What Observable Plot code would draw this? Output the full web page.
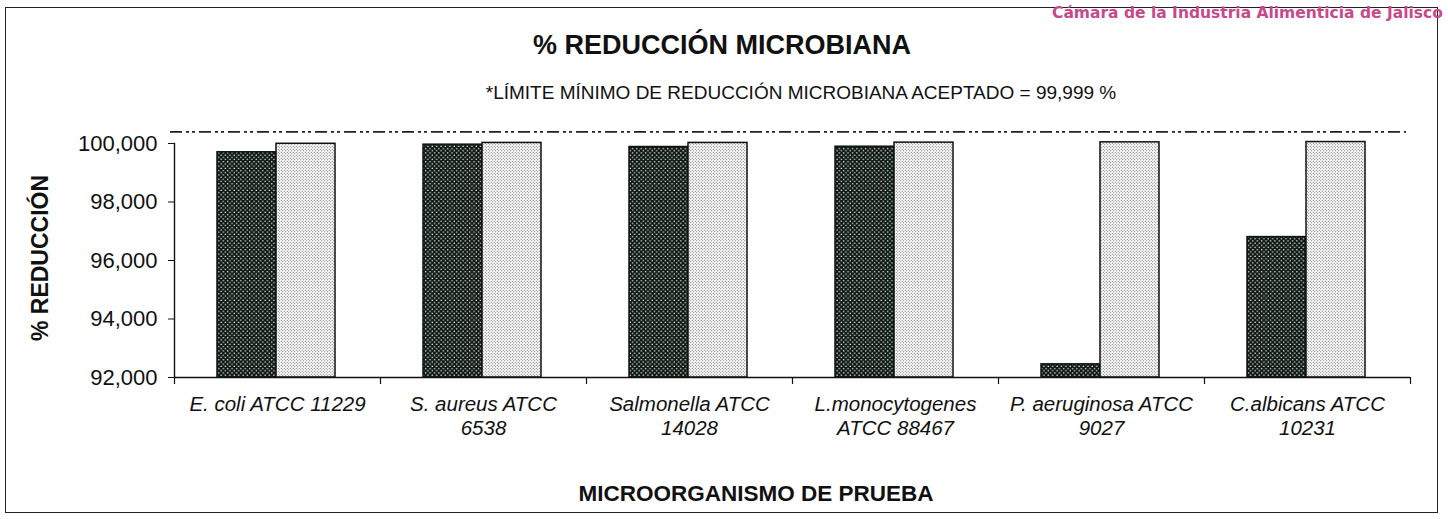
<!DOCTYPE html>
<html><head><meta charset="utf-8">
<script src="https://cdn.jsdelivr.net/npm/d3@7"></script>
<script src="https://cdn.jsdelivr.net/npm/@observablehq/plot@0.6"></script>
<style>
html,body{margin:0;padding:0;background:#fff;overflow:hidden}
#wrap{position:relative;width:1448px;height:519px;overflow:hidden;font-family:"Liberation Sans",Arial,sans-serif;color:#111;background:#fff}
.abs{position:absolute;white-space:nowrap;line-height:1}
#frame{position:absolute;left:5px;top:7px;width:1433px;height:506px;border:1.5px solid #222;box-sizing:border-box}
#chart{position:absolute;left:0;top:0}
#brand{left:1052px;top:6px;font-family:"DejaVu Sans",sans-serif;font-weight:bold;font-size:15.5px;color:#c9488a}
#title{left:722px;top:32px;transform:translateX(-50%);font-weight:bold;font-size:27px}
#subtitle{left:801px;top:83px;transform:translateX(-50%);font-size:19px}
#xtitle{left:756px;top:483px;transform:translateX(-50%);font-weight:bold;font-size:22.5px}
#ytitle{left:40px;top:258px;transform:translate(-50%,-50%) rotate(-90deg);font-weight:bold;font-size:23px}
</style></head><body>
<div id="wrap">
  <div id="frame"></div>
  <div id="chart"></div>
  <div id="brand" class="abs">Cámara de la Industria Alimenticia de Jalisco</div>
  <div id="title" class="abs">% REDUCCIÓN MICROBIANA</div>
  <div id="subtitle" class="abs">*LÍMITE MÍNIMO DE REDUCCIÓN MICROBIANA ACEPTADO = 99,999 %</div>
  <div id="ytitle" class="abs">% REDUCCIÓN</div>
  <div id="xtitle" class="abs">MICROORGANISMO DE PRUEBA</div>
</div>
<script>
// ---- data ----
const categories = [
  "E. coli ATCC 11229",
  "S. aureus ATCC\n6538",
  "Salmonella ATCC\n14028",
  "L.monocytogenes\nATCC 88467",
  "P. aeruginosa ATCC\n9027",
  "C.albicans ATCC\n10231"
];
const series = ["Serie 1", "Serie 2"];
const serie1Values = [99.70, 99.96, 99.88, 99.89, 92.45, 96.80];
const serie2Values = [99.99, 100.02, 100.02, 100.03, 100.04, 100.05];
const yTicks = [92, 94, 96, 98, 100];
const yTickLabels = ["92,000", "94,000", "96,000", "98,000", "100,000"];
const limitLine = [100.4];
const yBase = 92;

const rows1 = categories.map((c, i) => ({cat: c, serie: series[0], value: serie1Values[i]}));
const rows2 = categories.map((c, i) => ({cat: c, serie: series[1], value: serie2Values[i]}));

const svg = Plot.plot({
  width: 1448,
  height: 445,
  marginLeft: 174,
  marginRight: 38,
  marginTop: 143,
  marginBottom: 68,
  x: {domain: categories, padding: 0, label: null},
  y: {domain: [yBase, 100], label: null},
  style: {fontFamily: "'Liberation Sans', Arial, sans-serif", color: "#111", background: "transparent", overflow: "visible"},
  marks: [
    Plot.barY(rows1, {x: "cat", y1: yBase, y2: "value", fill: "url(#darkDots)", stroke: "#111", strokeWidth: 1.5, insetLeft: 43, insetRight: 104}),
    Plot.barY(rows2, {x: "cat", y1: yBase, y2: "value", fill: "url(#lightDots)", stroke: "#111", strokeWidth: 1.5, insetLeft: 102, insetRight: 45}),
    Plot.ruleY([yBase], {stroke: "#111", strokeWidth: 1.4}),
    Plot.frame({anchor: "left", stroke: "#111", strokeWidth: 1.4}),
    Plot.ruleX(categories, {x: d => d, y1: yBase, y2: yBase, dx: -103, insetBottom: -7, stroke: "#111", strokeWidth: 1.2}),
    Plot.ruleX(categories.slice(-1), {x: d => d, y1: yBase, y2: yBase, dx: 103, insetBottom: -7, stroke: "#111", strokeWidth: 1.2}),
    Plot.ruleY(limitLine, {stroke: "#222", strokeWidth: 1.7, strokeDasharray: "12,4,3,3,3,4", insetLeft: -4, insetRight: 4}),
    Plot.axisY({ticks: yTicks, tickFormat: d => yTickLabels[yTicks.indexOf(d)], tickSize: 6, tickPadding: 11, fontSize: 22, stroke: "#111"}),
    Plot.axisX({tickSize: 0, tickPadding: 16, fontSize: 20.5, fontStyle: "italic", lineHeight: 1.17})
  ]
});

const defs = d3.select(svg).insert("defs", ":first-child");
const pd = defs.append("pattern").attr("id", "darkDots").attr("patternUnits", "userSpaceOnUse").attr("width", 4.4).attr("height", 4.4);
pd.append("rect").attr("width", 4.4).attr("height", 4.4).attr("fill", "#0e1a13");
pd.append("circle").attr("cx", 1.1).attr("cy", 1.1).attr("r", 0.75).attr("fill", "#f4f4f4");
pd.append("circle").attr("cx", 3.3).attr("cy", 3.3).attr("r", 0.75).attr("fill", "#f4f4f4");
const pl = defs.append("pattern").attr("id", "lightDots").attr("patternUnits", "userSpaceOnUse").attr("width", 3).attr("height", 3);
pl.append("rect").attr("width", 3).attr("height", 3).attr("fill", "#fdfdfd");
pl.append("circle").attr("cx", 0.75).attr("cy", 0.75).attr("r", 0.5).attr("fill", "#444");
pl.append("circle").attr("cx", 2.25).attr("cy", 2.25).attr("r", 0.5).attr("fill", "#444");

document.getElementById("chart").appendChild(svg);
</script>
</body></html>
